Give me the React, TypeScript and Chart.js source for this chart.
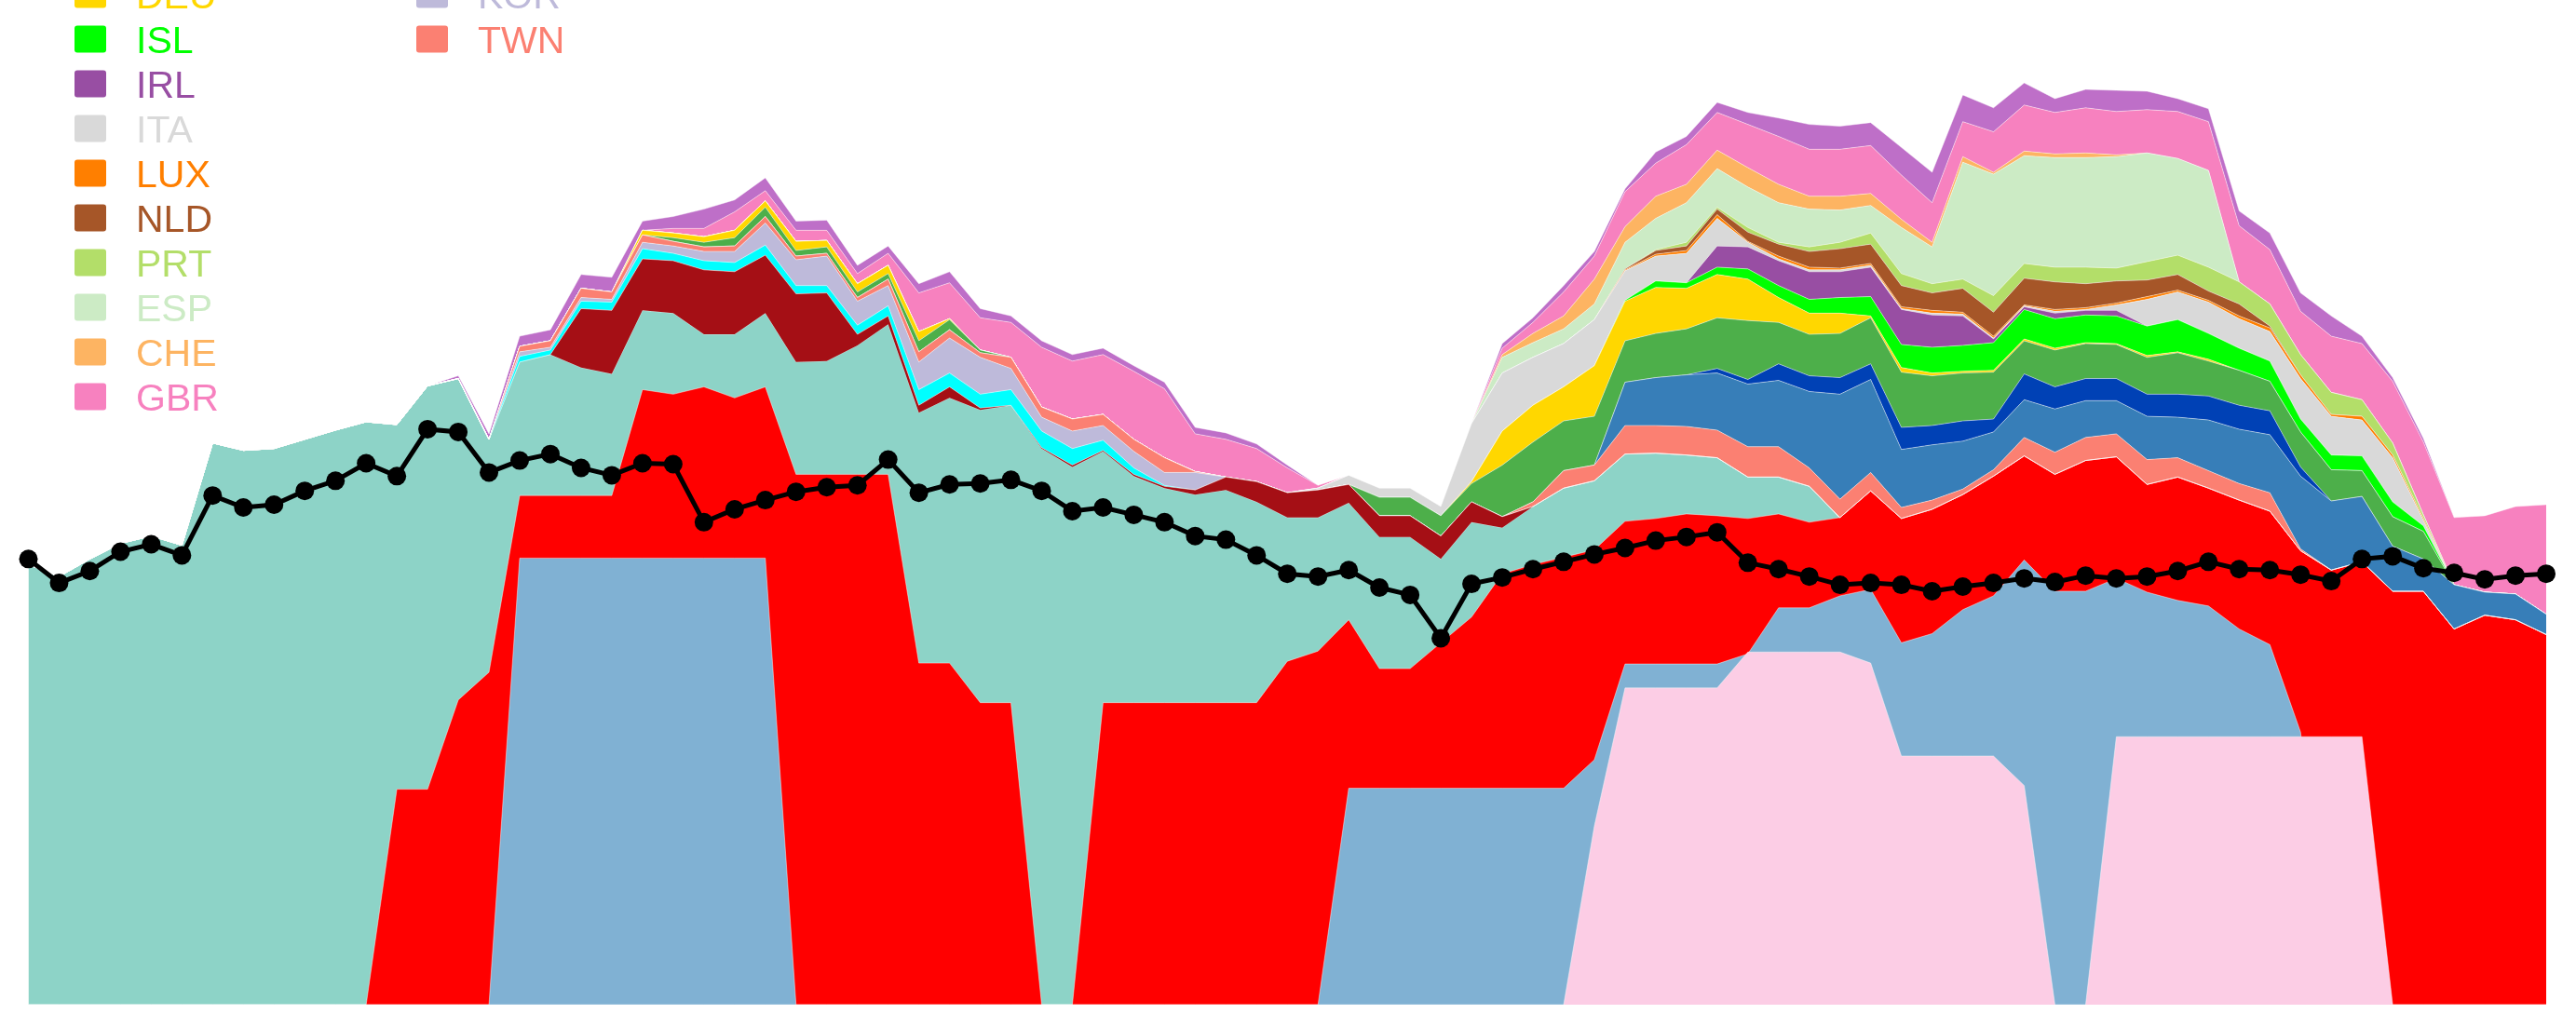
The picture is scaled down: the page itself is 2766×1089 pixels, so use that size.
import React, { useEffect, useRef } from "react";
import { Chart, registerables } from "chart.js";

Chart.register(...registerables);

// ---------- categories (83 periods, no visible axis labels) ----------
const periods = Array.from({ length: 83 }, (_, i) => `P${i + 1}`);

// ---------- black line series ----------
const trendLine = [
  48.4, 45.8, 47.1, 49.2, 50.0, 48.8, 55.3, 54.0, 54.3, 55.8,
  56.9, 58.8, 57.4, 62.5, 62.2, 57.8, 59.1, 59.8, 58.3, 57.5,
  58.8, 58.7, 52.4, 53.8, 54.8, 55.7, 56.2, 56.4, 59.2, 55.6,
  56.5, 56.6, 57.0, 55.8, 53.6, 54.0, 53.2, 52.4, 50.9, 50.5,
  48.8, 46.8, 46.5, 47.2, 45.3, 44.5, 39.8, 45.7, 46.4, 47.3,
  48.1, 48.9, 49.6, 50.4, 50.8, 51.3, 48.0, 47.3, 46.5, 45.6,
  45.8, 45.6, 44.9, 45.4, 45.8, 46.3, 45.9, 46.6, 46.3, 46.5,
  47.1, 48.1, 47.3, 47.2, 46.7, 46.0, 48.4, 48.7, 47.4, 46.9,
  46.2, 46.6, 46.8,
];

// ---------- overlapping base areas (each drawn from zero) ----------
const tealArea = [
  47.8, 46.5, 48.4, 50.1, 50.9, 49.9, 61.0, 60.2, 60.4, 61.4,
  62.4, 63.3, 63.0, 67.2, 68.0, 61.4, 69.8, 70.6, 69.2, 68.5,
  75.4, 75.1, 72.8, 72.8, 75.1, 69.8, 69.9, 71.6, 73.9, 64.3,
  65.9, 64.6, 65.1, 60.4, 58.4, 60.1, 57.4, 56.1, 55.4, 55.9,
  54.6, 52.9, 52.9, 54.5, 50.8, 50.8, 48.4, 52.4, 51.8, 54.1,
  56.1, 56.9, 59.8, 59.9, 59.7, 59.4, 57.3, 57.3, 56.3, 52.8,
  0, 0, 0, 0, 0, 0, 0, 0, 0, 0,
  0, 0, 0, 0, 0, 0, 0, 0, 0, 0,
  0, 0, 0,
];
const redArea = [
  0, 0, 0, 0, 0, 0, 0, 0, 0, 0,
  0, 0, 23.4, 23.4, 33.1, 36.1, 55.3, 55.3, 55.3, 55.3,
  66.8, 66.3, 67.1, 65.9, 67.1, 57.6, 57.6, 57.6, 57.6, 37.1,
  37.1, 32.8, 32.8, 0, 0, 32.8, 32.8, 32.8, 32.8, 32.8,
  32.8, 37.3, 38.4, 41.8, 36.5, 36.5, 39.3, 42.1, 46.8, 47.8,
  48.6, 49.4, 52.5, 52.8, 53.3, 53.1, 52.8, 53.3, 52.4, 52.9,
  55.8, 52.8, 53.8, 55.4, 57.4, 59.6, 57.6, 59.1, 59.5, 56.5,
  57.3, 56.1, 54.8, 53.6, 49.3, 47.2, 48.1, 44.9, 44.9, 40.8,
  42.3, 41.8, 40.2,
];
const blueArea = [
  0, 0, 0, 0, 0, 0, 0, 0, 0, 0,
  0, 0, 0, 0, 0, 0, 48.5, 48.5, 48.5, 48.5,
  48.5, 48.5, 48.5, 48.5, 48.5, 0, 0, 0, 0, 0,
  0, 0, 0, 0, 0, 0, 0, 0, 0, 0,
  0, 0, 0, 23.5, 23.5, 23.5, 23.5, 23.5, 23.5, 23.5,
  23.5, 26.6, 37.0, 37.0, 37.0, 37.0, 38.1, 43.1, 43.1, 44.4,
  45.1, 39.3, 40.3, 42.9, 44.4, 48.3, 44.9, 44.9, 46.3, 44.8,
  43.9, 43.3, 40.8, 39.1, 29.6, 0, 0, 0, 0, 0,
  0, 0, 0,
];
const pinkArea = [
  0, 0, 0, 0, 0, 0, 0, 0, 0, 0,
  0, 0, 0, 0, 0, 0, 0, 0, 0, 0,
  0, 0, 0, 0, 0, 0, 0, 0, 0, 0,
  0, 0, 0, 0, 0, 0, 0, 0, 0, 0,
  0, 0, 0, 0, 0, 0, 0, 0, 0, 0,
  0, 19.4, 34.4, 34.4, 34.4, 34.4, 38.3, 38.3, 38.3, 38.3,
  37.1, 27.0, 27.0, 27.0, 27.0, 23.8, 0, 0, 29.1, 29.1,
  29.1, 29.1, 29.1, 29.1, 29.1, 29.1, 29.1, 0, 0, 0,
  0, 0, 0,
];

// ---------- stacked layers (bottom to top) ----------
const darkRedLayer = [
  0, 0, 0, 0, 0, 0, 0, 0, 0, 0,
  0, 0, 0, 0, 0, 0, 0, 0, 6.4, 6.9,
  5.6, 5.7, 7.0, 6.8, 6.3, 7.4, 7.4, 1.2, 0.9, 0.8,
  1.2, 0.2, 0, 0.1, 0.2, 0.1, 0.2, 0.2, 0.5, 1.4,
  2.2, 2.7, 3.0, 2.0, 2.3, 2.3, 2.5, 2.2, 1.2, 0,
  0, 0, 0, 0, 0, 0, 0, 0, 0, 0,
  0, 0, 0, 0, 0, 0, 0, 0, 0, 0,
  0, 0, 0, 0, 0, 0, 0, 0, 0, 0,
  0, 0, 0,
];
const cyanLayer = [
  0, 0, 0, 0, 0, 0, 0, 0, 0, 0,
  0, 0, 0, 0, 0, 0, 0.6, 0.5, 0.8, 0.9,
  1.1, 0.8, 1.0, 1.0, 1.1, 0.9, 0.8, 1.0, 1.1, 1.7,
  1.5, 1.5, 1.7, 1.8, 1.8, 1.1, 0.7, 0.1, 0, 0,
  0, 0, 0, 0, 0, 0, 0, 0, 0, 0,
  0, 0, 0, 0, 0, 0, 0, 0, 0, 0,
  0, 0, 0, 0, 0, 0, 0, 0, 0, 0,
  0, 0, 0, 0, 0, 0, 0, 0, 0, 0,
  0, 0, 0,
];
const korLayer = [
  0, 0, 0, 0, 0, 0, 0, 0, 0, 0,
  0, 0, 0, 0, 0, 0, 0.5, 0.3, 0.4, 0.3,
  0.7, 0.8, 1.0, 1.2, 2.4, 2.8, 3.2, 2.6, 2.2, 3.0,
  3.8, 4.0, 2.3, 1.5, 1.9, 1.6, 1.8, 1.4, 1.9, 0,
  0, 0, 0, 0, 0, 0, 0, 0, 0, 0,
  0, 0, 0, 0, 0, 0, 0, 0, 0, 0,
  0, 0, 0, 0, 0, 0, 0, 0, 0, 0,
  0, 0, 0, 0, 0, 0, 0, 0, 0, 0,
  0, 0, 0,
];
const twnLayer = [
  0, 0, 0, 0, 0, 0, 0, 0, 0, 0,
  0, 0, 0, 0, 0, 0, 0.6, 0.7, 1.0, 0.8,
  0.8, 0.5, 0.5, 0.6, 0.7, 0.4, 0.3, 0.4, 0.7, 1.1,
  0.9, 0.5, 1.2, 1.1, 1.3, 1.2, 1.3, 1.6, 0.1, 0,
  0, 0, 0, 0, 0, 0, 0, 0, 0, 0.5,
  1.9, 1.7, 3.1, 3.0, 3.1, 3.0, 3.3, 3.3, 2.0, 2.0,
  2.0, 1.2, 1.0, 0.6, 0.7, 2.0, 2.4, 2.5, 2.5, 2.7,
  2.1, 1.9, 1.8, 2.0, 0.2, 0, 0, 0, 0, 0,
  0, 0, 0,
];
const steelLayer = [
  0, 0, 0, 0, 0, 0, 0, 0, 0, 0,
  0, 0, 0, 0, 0, 0, 0, 0, 0, 0,
  0, 0, 0, 0, 0, 0, 0, 0, 0, 0,
  0, 0, 0, 0, 0, 0, 0, 0, 0, 0,
  0, 0, 0, 0, 0, 0, 0, 0, 0, 0,
  0, 0, 4.7, 5.2, 5.6, 6.2, 6.8, 7.2, 8.3, 11.4,
  10.1, 6.3, 6.0, 5.2, 4.1, 4.1, 4.7, 4.0, 3.6, 4.7,
  4.4, 5.5, 5.9, 6.3, 7.9, 7.5, 7.1, 4.9, 3.5, 4.8,
  2.5, 2.8, 2.2,
];
const navyLayer = [
  0, 0, 0, 0, 0, 0, 0, 0, 0, 0,
  0, 0, 0, 0, 0, 0, 0, 0, 0, 0,
  0, 0, 0, 0, 0, 0, 0, 0, 0, 0,
  0, 0, 0, 0, 0, 0, 0, 0, 0, 0,
  0, 0, 0, 0, 0, 0, 0, 0, 0, 0,
  0, 0, 0, 0, 0, 0.5, 0.5, 1.8, 1.7, 1.8,
  1.7, 2.4, 2.1, 2.2, 1.4, 2.8, 2.4, 2.4, 2.4, 2.4,
  2.5, 2.6, 2.6, 2.6, 1.0, 0, 0, 0, 0, 0,
  0, 0, 0,
];
const greenLayer = [
  0, 0, 0, 0, 0, 0, 0, 0, 0, 0,
  0, 0, 0, 0, 0, 0, 0, 0, 0, 0,
  0, 0.4, 0.5, 0.9, 1.0, 0.6, 0.7, 0.6, 0.6, 1.2,
  1.1, 0.3, 0, 0, 0, 0, 0, 0, 0, 0,
  0, 0, 0, 0, 2.0, 2.0, 2.2, 2.0, 5.6, 6.5,
  5.4, 5.3, 4.5, 4.8, 5.0, 5.5, 6.4, 4.5, 4.5, 4.8,
  5.0, 6.0, 5.4, 5.2, 5.1, 3.6, 4.0, 3.8, 3.7, 4.0,
  4.5, 3.8, 3.8, 3.2, 3.8, 3.4, 2.8, 3.2, 3.0, 0,
  0, 0, 0,
];
const deuLayer = [
  0, 0, 0, 0, 0, 0, 0, 0, 0, 0,
  0, 0, 0, 0, 0, 0, 0, 0, 0, 0,
  0.5, 0.5, 0.6, 0.8, 0.7, 1.0, 0.7, 0.9, 0.9, 1.0,
  0.1, 0, 0, 0, 0, 0, 0, 0, 0, 0,
  0, 0, 0, 0, 0, 0, 0, 0.2, 3.7, 4.0,
  3.7, 5.5, 4.3, 5.0, 4.4, 4.7, 4.5, 2.7, 2.3, 2.2,
  0.2, 0.5, 0.3, 0.2, 0.2, 0.2, 0.2, 0.1, 0.1, 0.2,
  0.1, 0.2, 0, 0, 0, 0, 0, 0, 0, 0,
  0, 0, 0,
];
const islLayer = [
  0, 0, 0, 0, 0, 0, 0, 0, 0, 0,
  0, 0, 0, 0, 0, 0, 0, 0, 0, 0,
  0, 0, 0, 0, 0, 0, 0, 0, 0, 0,
  0, 0, 0, 0, 0, 0, 0, 0, 0, 0,
  0, 0, 0, 0, 0, 0, 0, 0, 0, 0,
  0, 0, 0.1, 0.7, 0.6, 0.8, 1.1, 1.3, 1.5, 1.7,
  2.1, 2.5, 2.8, 2.8, 3.0, 3.2, 3.2, 3.0, 3.0, 3.2,
  3.5, 2.8, 2.4, 2.2, 1.4, 1.6, 1.6, 1.6, 0.6, 0,
  0, 0, 0,
];
const irlLayer = [
  0, 0, 0, 0, 0, 0, 0, 0, 0, 0,
  0, 0, 0, 0, 0, 0, 0, 0, 0, 0,
  0, 0, 0, 0, 0, 0, 0, 0, 0, 0,
  0, 0, 0, 0, 0, 0, 0, 0, 0, 0,
  0, 0, 0, 0, 0, 0, 0, 0, 0, 0,
  0, 0, 0, 0, 0, 2.3, 2.4, 2.7, 3.0, 2.8,
  3.2, 3.8, 3.5, 3.2, 0.4, 0.3, 0.6, 0.5, 0.6, 0,
  0, 0, 0, 0, 0, 0, 0, 0, 0, 0,
  0, 0, 0,
];
const itaLayer = [
  0, 0, 0, 0, 0, 0, 0, 0, 0, 0,
  0, 0, 0, 0, 0, 0, 0, 0, 0, 0,
  0, 0, 0, 0, 0, 0, 0, 0, 0, 0,
  0, 0, 0, 0, 0, 0, 0, 0, 0, 0,
  0, 0, 0.2, 1.0, 1.0, 1.0, 1.0, 6.3, 6.3, 5.2,
  4.7, 5.0, 3.2, 2.7, 3.2, 3.0, 0.5, 0.2, 0.2, 0.2,
  0.2, 0.1, 0.2, 0.2, 0.1, 0.1, 0.2, 0.1, 0.6, 2.9,
  3.0, 3.4, 3.2, 3.2, 4.4, 4.2, 3.9, 4.8, 0.6, 0,
  0, 0, 0,
];
const luxLayer = [
  0, 0, 0, 0, 0, 0, 0, 0, 0, 0,
  0, 0, 0, 0, 0, 0, 0, 0, 0, 0,
  0, 0, 0, 0, 0, 0, 0, 0, 0, 0,
  0, 0, 0, 0, 0, 0, 0, 0, 0, 0,
  0, 0, 0, 0, 0, 0, 0, 0, 0, 0,
  0, 0, 0.1, 0.2, 0.3, 0.4, 0.1, 0.3, 0.3, 0.2,
  0.2, 0.2, 0.3, 0.2, 0.2, 0.1, 0.2, 0.2, 0.2, 0.3,
  0.2, 0.2, 0.3, 0.4, 0.4, 0.2, 0.4, 0.3, 0.2, 0,
  0, 0, 0,
];
const nldLayer = [
  0, 0, 0, 0, 0, 0, 0, 0, 0, 0,
  0, 0, 0, 0, 0, 0, 0, 0, 0, 0,
  0, 0, 0, 0, 0, 0, 0, 0, 0, 0,
  0, 0, 0, 0, 0, 0, 0, 0, 0, 0,
  0, 0, 0, 0, 0, 0, 0, 0, 0, 0,
  0, 0, 0.1, 0.4, 0.5, 0.6, 1.0, 1.3, 1.7, 2.1,
  2.1, 2.3, 1.9, 2.6, 2.6, 2.9, 3.0, 2.6, 2.4, 1.8,
  1.7, 1.0, 1.3, 0.2, 0, 0, 0, 0, 0, 0,
  0, 0, 0,
];
const prtLayer = [
  0, 0, 0, 0, 0, 0, 0, 0, 0, 0,
  0, 0, 0, 0, 0, 0, 0, 0, 0, 0,
  0, 0, 0, 0, 0, 0, 0, 0, 0, 0,
  0, 0, 0, 0, 0, 0, 0, 0, 0, 0,
  0, 0, 0, 0, 0, 0, 0, 0, 0, 0,
  0, 0, 0, 0.1, 0.4, 0.2, 0.5, 0.2, 0.5, 0.7,
  1.2, 1.3, 1.0, 1.0, 1.8, 1.6, 1.6, 1.8, 1.4, 2.0,
  2.1, 2.6, 2.4, 2.4, 2.2, 2.4, 1.8, 1.3, 0.4, 0,
  0, 0, 0,
];
const espLayer = [
  0, 0, 0, 0, 0, 0, 0, 0, 0, 0,
  0, 0, 0, 0, 0, 0, 0, 0, 0, 0,
  0, 0, 0, 0, 0, 0, 0, 0, 0, 0,
  0, 0, 0, 0, 0, 0, 0, 0, 0, 0,
  0, 0, 0, 0, 0, 0, 0, 0, 1.7, 1.6,
  1.6, 1.7, 2.9, 3.4, 4.3, 4.2, 4.4, 4.3, 4.1, 3.5,
  3.0, 5.0, 4.0, 12.7, 13.2, 11.7, 11.9, 11.9, 12.1, 11.8,
  10.5, 10.5, 0, 0, 0, 0, 0, 0, 0, 0,
  0, 0, 0,
];
const cheLayer = [
  0, 0, 0, 0, 0, 0, 0, 0, 0, 0,
  0, 0, 0, 0, 0, 0, 0, 0, 0, 0,
  0, 0, 0, 0, 0, 0, 0, 0, 0, 0,
  0, 0, 0, 0, 0, 0, 0, 0, 0, 0,
  0, 0, 0, 0, 0, 0, 0, 0, 0.3, 1.0,
  1.4, 2.7, 1.7, 2.4, 2.0, 2.0, 2.1, 2.0, 1.4, 1.5,
  1.3, 0.9, 0.5, 0.6, 0.2, 0.5, 0.4, 0.5, 0.2, 0,
  0, 0, 0, 0, 0, 0, 0, 0, 0, 0,
  0, 0, 0,
];
const gbrLayer = [
  0, 0, 0, 0, 0, 0, 0, 0, 0, 0,
  0, 0, 0, 0, 0, 0, 0, 0, 0, 0,
  0, 0.5, 0.9, 2.0, 1.1, 1.2, 1.1, 1.1, 1.3, 4.2,
  3.9, 3.5, 3.8, 6.5, 6.3, 6.5, 7.4, 7.5, 4.1, 4.1,
  3.6, 2.7, 0.3, 0, 0, 0, 0, 0, 0.7, 1.2,
  2.6, 2.5, 3.8, 3.6, 4.3, 4.1, 4.7, 5.2, 5.1, 5.1,
  5.2, 4.8, 4.3, 3.8, 4.4, 5.0, 4.5, 4.9, 4.7, 4.7,
  5.1, 5.3, 6.1, 5.9, 4.7, 6.1, 6.1, 6.7, 7.9, 7.3,
  8.3, 9.5, 11.9,
];
const orchidLayer = [
  0, 0, 0, 0, 0, 0, 0, 0, 0, 0,
  0, 0, 0, 0, 0.3, 0.6, 1.1, 1.2, 1.5, 1.6,
  1.0, 1.3, 2.1, 1.3, 1.4, 1.0, 1.1, 0.9, 0.8, 1.0,
  1.2, 1.0, 0.7, 0.7, 0.7, 0.7, 0.6, 0.7, 0.7, 0.7,
  0.5, 0.3, 0, 0, 0, 0, 0, 0, 0.5, 0.5,
  0.7, 0.5, 0.3, 1.2, 0.9, 1.1, 1.3, 2.0, 2.7, 2.5,
  2.5, 3.0, 3.3, 2.9, 2.6, 2.4, 1.5, 2.0, 2.3, 2.0,
  1.4, 1.4, 1.6, 1.8, 2.0, 2.2, 0.8, 0.4, 0.4, 0,
  0, 0, 0,
];

// ---------- legend (visible part) ----------
const legendLeftNames = ["DEU", "ISL", "IRL", "ITA", "LUX", "NLD", "PRT", "ESP", "CHE", "GBR"];
const legendRightNames = ["KOR", "TWN"];

const palette: Record<string, string> = {
  teal: "#8dd3c7",
  red: "#ff0000",
  blue: "#80b1d3",
  pink: "#fccde5",
  darkred: "#a50f15",
  cyan: "#00ffff",
  KOR: "#bebada",
  TWN: "#fb8072",
  steel: "#377eb8",
  navy: "#0041b5",
  green: "#4daf4a",
  DEU: "#ffd700",
  ISL: "#00ff00",
  IRL: "#984ea3",
  ITA: "#d9d9d9",
  LUX: "#ff7f00",
  NLD: "#a65628",
  PRT: "#b3de69",
  ESP: "#ccebc5",
  CHE: "#fdb462",
  GBR: "#f781bf",
  orchid: "#be6fc8",
};

const stackLayers: { key: string; label: string; values: number[] }[] = [
  { key: "darkred", label: "Dark red", values: darkRedLayer },
  { key: "cyan", label: "Cyan", values: cyanLayer },
  { key: "KOR", label: "KOR", values: korLayer },
  { key: "TWN", label: "TWN", values: twnLayer },
  { key: "steel", label: "Steel blue", values: steelLayer },
  { key: "navy", label: "Navy", values: navyLayer },
  { key: "green", label: "Green", values: greenLayer },
  { key: "DEU", label: "DEU", values: deuLayer },
  { key: "ISL", label: "ISL", values: islLayer },
  { key: "IRL", label: "IRL", values: irlLayer },
  { key: "ITA", label: "ITA", values: itaLayer },
  { key: "LUX", label: "LUX", values: luxLayer },
  { key: "NLD", label: "NLD", values: nldLayer },
  { key: "PRT", label: "PRT", values: prtLayer },
  { key: "ESP", label: "ESP", values: espLayer },
  { key: "CHE", label: "CHE", values: cheLayer },
  { key: "GBR", label: "GBR", values: gbrLayer },
  { key: "orchid", label: "Orchid", values: orchidLayer },
];

const seam = "rgba(255,255,255,0.45)";

const cornerLegend = {
  id: "cornerLegend",
  afterDraw(chart: any) {
    const ctx = chart.ctx as CanvasRenderingContext2D;
    ctx.save();
    ctx.font = '41px "Liberation Sans", Arial, sans-serif';
    ctx.textBaseline = "alphabetic";
    const drawCol = (names: string[], boxX: number) => {
      names.forEach((name, r) => {
        const cy = -6 + 48 * r;
        const color = palette[name];
        ctx.fillStyle = color;
        ctx.beginPath();
        (ctx as any).roundRect(boxX, cy - 14.5, 34, 29, 3);
        ctx.fill();
        ctx.fillText(name, boxX + 66, cy + 14.6);
      });
    };
    drawCol(legendLeftNames, 80);
    drawCol(legendRightNames, 447);
    ctx.restore();
  },
};

export default function App() {
  const canvasRef = useRef<HTMLCanvasElement | null>(null);

  useEffect(() => {
    if (!canvasRef.current) return;

    const base = tealArea.map((v, i) => Math.max(v, redArea[i], blueArea[i], pinkArea[i]));
    const running = base.slice();
    const layerSets = stackLayers.map((layer) => {
      const tops = layer.values.map((v, i) => {
        running[i] = +(running[i] + v).toFixed(3);
        return running[i];
      });
      return {
        label: layer.label,
        data: tops,
        backgroundColor: palette[layer.key],
        borderColor: seam,
        borderWidth: 1,
        pointRadius: 0,
        fill: "-1",
        order: 5,
      };
    });

    const overlay = (label: string, values: number[], key: string, order: number) => ({
      label,
      data: values,
      backgroundColor: palette[key],
      borderColor: seam,
      borderWidth: 1,
      pointRadius: 0,
      fill: "origin",
      order,
    });

    const datasets: any[] = [
      {
        label: "base",
        data: base,
        backgroundColor: palette.teal,
        borderColor: "rgba(0,0,0,0)",
        borderWidth: 0,
        pointRadius: 0,
        fill: "origin",
        order: 10,
      },
      ...layerSets,
      overlay("Teal", tealArea, "teal", 9),
      overlay("Red", redArea, "red", 8),
      overlay("Blue", blueArea, "blue", 7),
      overlay("Pink", pinkArea, "pink", 6),
      {
        label: "Trend",
        data: trendLine,
        borderColor: "#000000",
        backgroundColor: "#000000",
        borderWidth: 5,
        pointRadius: 10,
        pointBackgroundColor: "#000000",
        pointBorderWidth: 0,
        fill: false,
        clip: false,
        order: 0,
      },
    ];

    const chart = new Chart(canvasRef.current, {
      type: "line",
      data: { labels: periods, datasets },
      options: {
        animation: false,
        responsive: true,
        maintainAspectRatio: false,
        events: [],
        layout: { padding: { left: 30.5, right: 32, top: 0, bottom: 8 } },
        elements: { line: { tension: 0 } },
        plugins: {
          legend: { display: false },
          tooltip: { enabled: false },
          title: { display: false },
        },
        scales: {
          x: { display: false, offset: false },
          y: { display: false, min: 0, max: 108.1 },
        },
      },
      plugins: [cornerLegend],
    });

    return () => chart.destroy();
  }, []);

  return (
    <div style={{ position: "absolute", left: 0, top: 0, width: 2766, height: 1089, background: "#ffffff" }}>
      <canvas ref={canvasRef} />
    </div>
  );
}
